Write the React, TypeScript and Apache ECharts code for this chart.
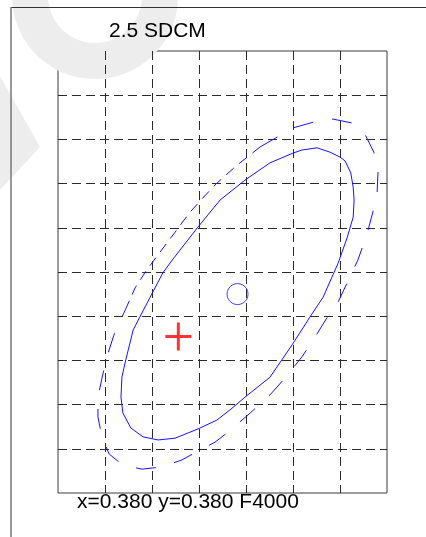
import React, { useEffect, useRef } from "react";
import * as echarts from "echarts";

const TITLE = "2.5 SDCM";
const CAPTION = "x=0.380 y=0.380 F4000";

// axis ranges in grid-cell units (7 columns x 10 rows)
const X_MIN = 0;
const X_MAX = 7;
const Y_MIN = 0;
const Y_MAX = 10;

// solid (inner) ellipse
const solidEllipse: number[][] = [
  [1.6, 3.69], [1.74, 3.98], [2.23, 4.98], [2.43, 5.27], [2.98, 6.02], [3.45, 6.63],
  [3.98, 7.08], [4.51, 7.47], [5.0, 7.69], [5.19, 7.76], [5.51, 7.81], [5.79, 7.71],
  [6.0, 7.6], [6.11, 7.51], [6.23, 7.24], [6.28, 6.92], [6.3, 6.63], [6.28, 6.24],
  [6.15, 5.77], [5.96, 5.2], [5.64, 4.43], [5.36, 3.98], [4.98, 3.35], [4.51, 2.62],
  [3.98, 2.17], [3.66, 1.88], [3.38, 1.65], [2.98, 1.45], [2.49, 1.24], [2.13, 1.2],
  [1.81, 1.27], [1.55, 1.47], [1.38, 1.81], [1.34, 2.17], [1.36, 2.62], [1.43, 2.96],
  [1.6, 3.69],
];

// dashed (outer) ellipse, long-dash part
const dashedEllipseMain: number[][] = [
  [4.3, 7.83], [4.66, 8.05], [5.0, 8.26], [5.43, 8.39], [5.85, 8.46], [6.26, 8.37],
  [6.53, 8.12], [6.72, 7.71], [6.81, 7.29], [6.79, 6.81], [6.7, 6.36], [6.57, 5.84],
  [6.38, 5.27], [6.15, 4.75], [5.96, 4.32], [5.72, 3.96], [5.47, 3.53], [5.19, 3.08],
  [4.83, 2.6], [4.51, 2.22], [4.09, 1.81], [3.62, 1.38], [3.34, 1.15], [2.98, 0.95],
  [2.64, 0.75], [2.21, 0.59], [1.79, 0.54], [1.38, 0.63], [1.09, 0.88], [0.94, 1.24],
  [0.85, 1.72], [0.85, 2.17], [0.94, 2.62], [1.04, 3.08], [1.21, 3.64], [1.43, 4.14],
];

// dashed (outer) ellipse, short-dash upper-left part
const dashedEllipseUpperLeft: number[][] = [
  [1.43, 4.14], [1.64, 4.64], [1.87, 5.02], [2.17, 5.45], [2.49, 5.9], [2.79, 6.33],
  [3.06, 6.65], [3.36, 6.99], [3.79, 7.4], [4.3, 7.83],
];

const targetPoint: number[][] = [[3.82, 4.5]];
const measuredPoint: number[][] = [[2.56, 3.54]];

const FONT = '"Liberation Sans", Arial, Helvetica, sans-serif';
const BLUE = "#1414ff";

export default function App() {
  const ref = useRef<HTMLDivElement>(null);

  useEffect(() => {
    document.body.style.margin = "0";
    document.body.style.background = "#ffffff";
    const chart = echarts.init(ref.current as HTMLDivElement, undefined, {
      renderer: "svg",
      width: 426,
      height: 537,
    });

    const splitLine = {
      show: true,
      showMinLine: false,
      showMaxLine: false,
      lineStyle: { color: "#2a2a2a", width: 1, type: [9, 5] },
    };

    chart.setOption({
      animation: false,
      grid: {
        left: 58,
        top: 51,
        width: 329,
        height: 442,
        show: true,
        borderColor: "#3a3a3a",
        borderWidth: 1,
        backgroundColor: "transparent",
        containLabel: false,
      },
      xAxis: {
        type: "value",
        min: X_MIN,
        max: X_MAX,
        interval: 1,
        axisLine: { show: false },
        axisTick: { show: false },
        axisLabel: { show: false },
        splitLine,
      },
      yAxis: {
        type: "value",
        min: Y_MIN,
        max: Y_MAX,
        interval: 1,
        axisLine: { show: false },
        axisTick: { show: false },
        axisLabel: { show: false },
        splitLine,
      },
      graphic: {
        elements: [
          {
            type: "group",
            z: -10,
            silent: true,
            children: [
              {
                type: "ring",
                shape: { cx: 95, cy: -4, r: 83, r0: 47 },
                style: { fill: "#ededed" },
              },
              {
                type: "polygon",
                shape: { points: [[0, 76], [40, 147], [0, 190]] },
                style: { fill: "#ededed" },
              },
            ],
          },
          {
            type: "line",
            silent: true,
            shape: { x1: 11, y1: 7.5, x2: 426, y2: 7.5 },
            style: { stroke: "#333333", lineWidth: 1 },
          },
          {
            type: "line",
            silent: true,
            shape: { x1: 11, y1: 7, x2: 11, y2: 537 },
            style: { stroke: "#777777", lineWidth: 1.5 },
          },
          {
            type: "text",
            x: 109,
            y: 29,
            style: {
              text: TITLE,
              font: `21px ${FONT}`,
              fill: "#000000",
              textAlign: "left",
              textVerticalAlign: "middle",
            },
          },
          {
            type: "text",
            x: 77,
            y: 500,
            style: {
              text: CAPTION,
              font: `21px ${FONT}`,
              fill: "#000000",
              textAlign: "left",
              textVerticalAlign: "middle",
            },
          },
        ],
      },
      series: [
        {
          type: "line",
          data: solidEllipse,
          showSymbol: false,
          symbol: "none",
          smooth: false,
          lineStyle: { color: BLUE, width: 1 },
          z: 3,
        },
        {
          type: "line",
          data: dashedEllipseMain,
          showSymbol: false,
          symbol: "none",
          smooth: false,
          lineStyle: { color: BLUE, width: 1, type: [20, 19] },
          z: 3,
        },
        {
          type: "line",
          data: dashedEllipseUpperLeft,
          showSymbol: false,
          symbol: "none",
          smooth: false,
          lineStyle: { color: BLUE, width: 1, type: [10, 7] },
          z: 3,
        },
        {
          type: "scatter",
          data: targetPoint,
          symbol: "circle",
          symbolSize: 21,
          itemStyle: { color: "transparent", borderColor: BLUE, borderWidth: 1 },
          z: 4,
        },
        {
          type: "scatter",
          data: measuredPoint,
          symbol: "path://M11.5,0H14.5V12.5H26V15.5H14.5V28H11.5V15.5H0V12.5H11.5Z",
          symbolSize: [26, 28],
          itemStyle: { color: "#ff0000" },
          z: 4,
        },
      ],
    });

    return () => chart.dispose();
  }, []);

  return (
    <div
      ref={ref}
      style={{ position: "fixed", left: 0, top: 0, width: 426, height: 537 }}
    />
  );
}
